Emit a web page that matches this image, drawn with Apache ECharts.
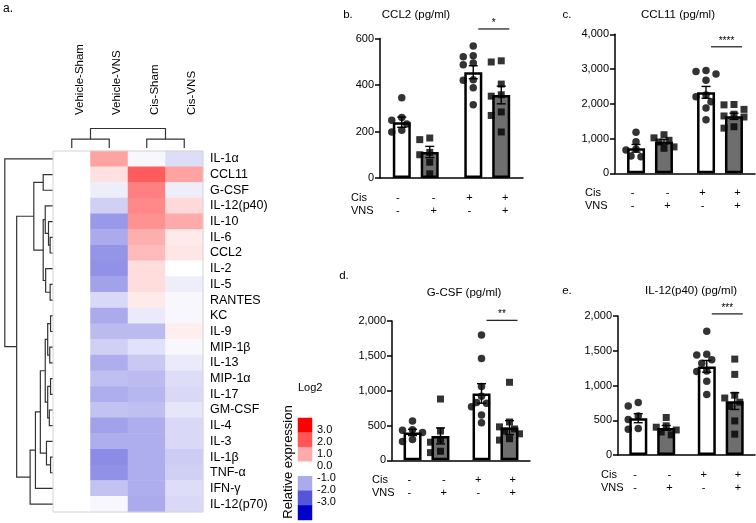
<!DOCTYPE html>
<html><head><meta charset="utf-8">
<script src="https://cdn.jsdelivr.net/npm/echarts@6/dist/echarts.min.js"></script>
<style>html,body{margin:0;padding:0;background:#fff}#c{width:756px;height:523px}</style>
</head><body><div id="c"></div>
<script>
// ---------- heatmap data ----------
const cytokines = ['IL-1α','CCL11','G-CSF','IL-12(p40)','IL-10','IL-6','CCL2','IL-2','IL-5','RANTES','KC','IL-9','MIP-1β','IL-13','MIP-1α','IL-17','GM-CSF','IL-4','IL-3','IL-1β','TNF-α','IFN-γ','IL-12(p70)'];
const conditions = ['Vehicle-Sham','Vehicle-VNS','Cis-Sham','Cis-VNS'];
const log2VehicleSham = [0,0,0,0,0,0,0,0,0,0,0,0,0,0,0,0,0,0,0,0,0,0,0];
const log2VehicleVNS = [1.1,0.35,-0.2,-0.55,-1.2,-1.0,-1.25,-1.3,-1.1,-0.45,-1.0,-0.8,-0.55,-0.95,-0.75,-0.95,-0.7,-1.1,-0.95,-1.35,-1.3,-0.7,-0.1];
const log2CisSham = [-0.1,1.9,1.5,1.4,1.3,0.95,0.8,0.4,0.4,0.25,-0.25,-0.8,-0.35,-0.65,-0.8,-0.85,-0.75,-0.95,-0.95,-0.95,-0.95,-0.95,-1.0];
const log2CisVNS = [-0.4,1.1,-0.2,0.45,1.0,0.25,0.3,0.0,-0.2,-0.1,-0.1,0.2,-0.1,-0.25,-0.4,-0.45,-0.3,-0.45,-0.45,-0.6,-0.55,-0.4,-0.45];
// linkage: [childA, childB, height]; new clusters numbered after leaves
const rowLinkage = [[5,6,0.7],[4,23,1.1],[3,24,1.9],[8,9,0.7],[7,26,1.8],[25,27,2.4],[1,2,2.4],[29,28,4.7],
  [10,11,0.6],[12,13,0.8],[31,32,1.3],[14,15,0.6],[16,17,0.9],[34,35,1.3],[33,36,1.9],[19,20,0.6],[18,38,1.6],
  [37,39,3.1],[21,40,4.3],[22,41,5.6],[30,42,8.9],[0,43,11.8]];
const colLinkage = [[0,1,0.9],[2,3,0.9],[4,5,2.0]];
const legendLevels = [3,2,1,0,-1,-2,-3];
const legendLabels = ['3.0','2.0','1.0','0.0','-1.0','-2.0','-3.0'];

// ---------- bar panels data ----------
const treatments = ['Vehicle','Cis'];
const signLabels = ['-\n-','-\n+','+\n-','+\n+'];

const ccl2Mean = [240,112,455,357];
const ccl2Sem = [22,24,28,38];
const ccl2VehSham = [345,260,248,232,205,198];
const ccl2VehVNS = [172,165,110,100,68,18];
const ccl2CisSham = [568,526,522,495,487,423,420,388,315];
const ccl2CisVNS = [504,499,404,358,352,284,269,198];

const ccl11Mean = [720,910,2330,1640];
const ccl11Sem = [110,65,170,90];
const ccl11VehSham = [1180,910,700,670,500,475];
const ccl11VehVNS = [1110,1020,950,900,760,720];
const ccl11CisSham = [2960,2930,2860,2680,2250,2200,2060,1880,1540];
const ccl11CisVNS = [1980,1970,1840,1700,1650,1620,1340,1300];

const gcsfMean = [400,350,960,470];
const gcsfSem = [45,115,140,100];
const gcsfVehSham = [565,440,430,400,300,270];
const gcsfVehVNS = [880,420,300,260,130,110];
const gcsfCisSham = [1800,1460,1060,920,830,820,770,650,540];
const gcsfCisVNS = [1120,550,480,450,420,380,310,290];

const il12Mean = [530,390,1275,775];
const il12Sem = [65,35,85,120];
const il12VehSham = [755,705,560,510,380,370];
const il12VehVNS = [540,420,400,360,330,290];
const il12CisSham = [1780,1450,1440,1370,1320,1210,1200,1060,870];
const il12CisVNS = [1380,1160,860,820,760,700,490,300];

// ---------- layout ----------
const FONT = '"Liberation Sans", Arial, Helvetica, sans-serif';
const panels = [
  {letter:'b.', title:'CCL2 (pg/ml)', mean:ccl2Mean, sem:ccl2Sem, pts:[ccl2VehSham,ccl2VehVNS,ccl2CisSham,ccl2CisVNS], max:600, interval:200, stars:'*', sig:641,
   grid:{left:380, top:38.5, width:143, height:139.5}, titleXY:[416,15], letterXY:[348,15], rowX:351},
  {letter:'c.', title:'CCL11 (pg/ml)', mean:ccl11Mean, sem:ccl11Sem, pts:[ccl11VehSham,ccl11VehVNS,ccl11CisSham,ccl11CisVNS], max:4000, interval:1000, stars:'****', sig:3640,
   grid:{left:615, top:34.3, width:140, height:139}, titleXY:[678,15], letterXY:[567,15], rowX:585},
  {letter:'d.', title:'G-CSF (pg/ml)', mean:gcsfMean, sem:gcsfSem, pts:[gcsfVehSham,gcsfVehVNS,gcsfCisSham,gcsfCisVNS], max:2000, interval:500, stars:'**', sig:2010,
   grid:{left:392, top:321, width:138, height:139.3}, titleXY:[464,293], letterXY:[344,276], rowX:372},
  {letter:'e.', title:'IL-12(p40) (pg/ml)', mean:il12Mean, sem:il12Sem, pts:[il12VehSham,il12VehVNS,il12CisSham,il12CisVNS], max:2000, interval:500, stars:'***', sig:2030,
   grid:{left:618, top:316, width:137, height:139}, titleXY:[691,291], letterXY:[567,291], rowX:601}
];
const BAR_W = 18, BAR_OFF = 14;

function dendro(leafCount, merges, swap) {
  const pos = [], hgt = [];
  for (let i = 0; i < leafCount; i++) { pos.push(i); hgt.push(0); }
  const segs = [];
  merges.forEach(([a,b,h]) => {
    let c = [[pos[a],hgt[a]],[pos[a],h],[pos[b],h],[pos[b],hgt[b]]];
    if (swap) c = c.map(p => [p[1], p[0]]);
    segs.push({coords: c});
    pos.push((pos[a]+pos[b])/2); hgt.push(h);
  });
  return segs;
}
function swarm(values, pxPerUnit, diam, step) {
  const order = values.map((v,i)=>i).sort((a,b)=>values[b]-values[a]);
  const placed = [], off = new Array(values.length).fill(0);
  const cands = [0,-1,1,-2,2];
  order.forEach(i => {
    const y = values[i]*pxPerUnit;
    let best = 0, bestD = -1;
    for (const c of cands) {
      const x = c*step;
      const d = placed.length ? Math.min(...placed.map(p => Math.hypot(p.x-x, p.y-y))) : 99;
      if (d >= diam) { best = x; bestD = 99; break; }
      if (d > bestD) { bestD = d; best = x; }
    }
    off[i] = best; placed.push({x:best, y});
  });
  return off;
}

const heatCols = [log2VehicleSham, log2VehicleVNS, log2CisSham, log2CisVNS];
const heatData = [];
heatCols.forEach((col, ci) => col.forEach((v, ri) => heatData.push([ci, ri, v])));

const grids = [
  {left:53, top:151, width:150, height:361},   // 0 heatmap
  {left:4, top:151, width:49, height:361},     // 1 row dendrogram
  {left:53, top:128, width:150, height:20},    // 2 col dendrogram
  {left:298, top:418, width:14, height:102},   // 3 legend blocks
  {left:298, top:424, width:14, height:84},    // 4 legend labels
  {left:61, top:151, width:150, height:361}    // 5 column labels
];
const hid = {show:false};
const xAxes = [
  {gridIndex:0, type:'category', data:conditions, show:false},
  {gridIndex:1, type:'value', min:0, max:12, inverse:true, show:false},
  {gridIndex:2, type:'value', min:-0.5, max:3.5, show:false},
  {gridIndex:3, type:'category', data:[''], show:false},
  {gridIndex:4, type:'category', data:[''], show:false},
  {gridIndex:5, type:'category', data:conditions, position:'top', axisLine:hid, axisTick:hid,
   axisLabel:{rotate:90, margin:36, fontSize:11.5, color:'#000', fontFamily:FONT, interval:0}}
];
const yAxes = [
  {gridIndex:0, type:'category', data:cytokines, inverse:true, position:'right', axisLine:hid, axisTick:hid,
   axisLabel:{margin:7, fontSize:12.5, color:'#000', fontFamily:FONT, interval:0}},
  {gridIndex:1, type:'value', min:-0.5, max:22.5, inverse:true, show:false},
  {gridIndex:2, type:'value', min:0, max:2.05, show:false},
  {gridIndex:3, type:'category', data:legendLabels, inverse:true, show:false},
  {gridIndex:4, type:'category', data:legendLabels, inverse:true, position:'right', axisLine:hid, axisTick:hid,
   axisLabel:{margin:5, fontSize:11, color:'#000', fontFamily:FONT, interval:0}},
  {gridIndex:5, type:'value', show:false}
];
const series = [
  {type:'heatmap', xAxisIndex:0, yAxisIndex:0, data:heatData, itemStyle:{borderWidth:0}},
  {type:'heatmap', xAxisIndex:3, yAxisIndex:3, data:legendLevels.map((v,i)=>[0,i,v])},
  {type:'lines', coordinateSystem:'cartesian2d', xAxisIndex:1, yAxisIndex:1, polyline:true,
   lineStyle:{color:'#333', width:1.2, opacity:1}, data:dendro(23, rowLinkage, true), silent:true},
  {type:'lines', coordinateSystem:'cartesian2d', xAxisIndex:2, yAxisIndex:2, polyline:true,
   lineStyle:{color:'#333', width:1.2, opacity:1}, data:dendro(4, colLinkage, false), silent:true}
];
const graphics = [
  {type:'text', x:3, y:9, style:{text:'a.', font:'12px '+FONT, fill:'#000', verticalAlign:'middle'}},
  {type:'text', x:298, y:388, style:{text:'Log2', font:'11px '+FONT, fill:'#000', verticalAlign:'middle'}},
  {type:'text', x:288, y:462, rotation:Math.PI/2, style:{text:'Relative expression', font:'13px '+FONT, fill:'#000', align:'center', verticalAlign:'middle'}},
  {type:'rect', z:100, shape:{x:53, y:151, width:150, height:361}, style:{fill:'none', stroke:'#d4d4d4', lineWidth:1}}
];

panels.forEach((p, k) => {
  const g = grids.length;
  grids.push(p.grid);
  const cx = xAxes.length;
  xAxes.push({gridIndex:g, type:'category', data:treatments, position:'bottom',
    axisLine:{lineStyle:{color:'#000', width:1.5}},
    axisTick:{alignWithLabel:true, length:5, lineStyle:{color:'#000', width:1.5}},
    axisLabel:{show:false}, splitLine:{show:false}});
  xAxes.push({gridIndex:g, type:'category', data:signLabels, position:'bottom', axisLine:hid, axisTick:hid,
    axisLabel:{margin:13, fontSize:11, lineHeight:13, color:'#000', fontFamily:FONT, interval:0}});
  const cy = yAxes.length;
  yAxes.push({gridIndex:g, type:'value', min:0, max:p.max, interval:p.interval,
    axisLine:{show:true, lineStyle:{color:'#000', width:1.5}},
    axisTick:{show:true, length:5, lineStyle:{color:'#000', width:1.5}},
    axisLabel:{fontSize:11, color:'#000', margin:6, fontFamily:FONT, formatter:v => echarts.format.addCommas(v)},
    splitLine:{show:false}});
  series.push({type:'bar', xAxisIndex:cx, yAxisIndex:cy, barWidth:BAR_W, barGap:'55%', z:2,
    itemStyle:{color:'#ffffff', borderColor:'#000', borderWidth:2.5}, data:[p.mean[0], p.mean[2]]});
  series.push({type:'bar', xAxisIndex:cx, yAxisIndex:cy, barWidth:BAR_W, barGap:'55%', z:2,
    itemStyle:{color:'#6e6e6e', borderColor:'#000', borderWidth:2.5}, data:[p.mean[1], p.mean[3]]});
  series.push({type:'custom', xAxisIndex:cx, yAxisIndex:cy, z:3,
    data:p.mean.map((m,i)=>[i<2?0:1, m, p.sem[i], i%2]),
    renderItem:(params, api) => {
      const cat = api.value(0), m = api.value(1), s = api.value(2), side = api.value(3);
      const t = api.coord([cat, m+s]), b = api.coord([cat, m-s]);
      const x = t[0] + (side ? BAR_OFF : -BAR_OFF);
      const st = {stroke:'#000', lineWidth:1.4};
      return {type:'group', children:[
        {type:'line', shape:{x1:x, y1:t[1], x2:x, y2:b[1]}, style:st},
        {type:'line', shape:{x1:x-4.5, y1:t[1], x2:x+4.5, y2:t[1]}, style:st},
        {type:'line', shape:{x1:x-4.5, y1:b[1], x2:x+4.5, y2:b[1]}, style:st}
      ]};
    }});
  const pxPerUnit = p.grid.height / p.max;
  p.pts.forEach((vals, i) => {
    const off = swarm(vals, pxPerUnit, 7, 5);
    const base = i%2 ? BAR_OFF : -BAR_OFF;
    series.push({type:'scatter', xAxisIndex:cx, yAxisIndex:cy, z:4,
      symbol: i%2 ? 'rect' : 'circle', symbolSize: i%2 ? 7 : 7.5,
      itemStyle:{color:'#000'},
      data: vals.map((v,j)=>({value:[i<2?0:1, v], symbolOffset:[base+off[j], 0]}))});
  });
  series.push({type:'custom', xAxisIndex:cx, yAxisIndex:cy, z:5, data:[[1, p.sig]],
    renderItem:(params, api) => {
      const c = api.coord([api.value(0), api.value(1)]);
      return {type:'group', children:[
        {type:'line', shape:{x1:c[0]-9, y1:c[1], x2:c[0]+22, y2:c[1]}, style:{stroke:'#000', lineWidth:1.1}},
        {type:'text', x:c[0]+6.5, y:c[1]-1, style:{text:p.stars, font:'10px '+FONT, fill:'#000', align:'center', verticalAlign:'bottom'}}
      ]};
    }});
  graphics.push({type:'text', x:p.titleXY[0], y:p.titleXY[1], style:{text:p.title, font:'11.5px '+FONT, fill:'#000', align:'center', verticalAlign:'middle'}});
  graphics.push({type:'text', x:p.letterXY[0], y:p.letterXY[1], style:{text:p.letter, font:'11.5px '+FONT, fill:'#000', align:'center', verticalAlign:'middle'}});
  const axisY = p.grid.top + p.grid.height;
  graphics.push({type:'text', x:p.rowX, y:axisY+20, style:{text:'Cis', font:'11px '+FONT, fill:'#000', verticalAlign:'middle'}});
  graphics.push({type:'text', x:p.rowX, y:axisY+33, style:{text:'VNS', font:'11px '+FONT, fill:'#000', verticalAlign:'middle'}});
});

const chart = echarts.init(document.getElementById('c'));
chart.setOption({
  animation:false,
  textStyle:{fontFamily:FONT},
  grid:grids, xAxis:xAxes, yAxis:yAxes,
  visualMap:{type:'continuous', show:false, min:-3, max:3, seriesIndex:[0,1],
    inRange:{color:['#0000c8','#ffffff','#ff0000']}},
  series:series,
  graphic:graphics
});
</script></body></html>
